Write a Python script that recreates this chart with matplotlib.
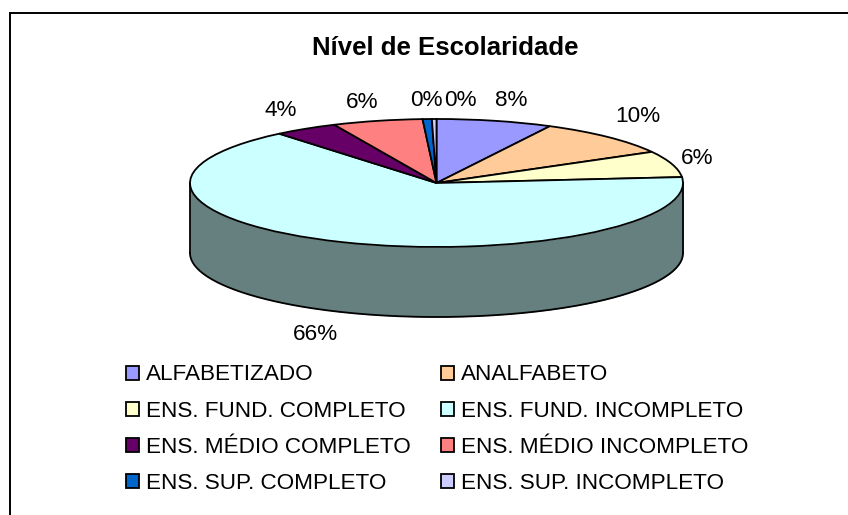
import numpy as np
import matplotlib
matplotlib.use('Agg')
import matplotlib.pyplot as plt
from matplotlib.lines import Line2D
from matplotlib.patches import Patch

categories = ['ALFABETIZADO', 'ANALFABETO', 'ENS. FUND. COMPLETO', 'ENS. FUND. INCOMPLETO',
              'ENS. MÉDIO COMPLETO', 'ENS. MÉDIO INCOMPLETO', 'ENS. SUP. COMPLETO', 'ENS. SUP. INCOMPLETO']
values = [7.6, 9.3, 6.6, 65.4, 4.2, 5.9, 0.6, 0.3]
percent_labels = ['8%', '10%', '6%', '66%', '4%', '6%', '0%', '0%']
colors = ['#9999FF', '#FFCC99', '#FFFFCC', '#CCFFFF', '#660066', '#FF8080', '#0066CC', '#CCCCFF']
side_color = '#668080'

W, H = 848, 515
# pie geometry in pixels
cx, cy, rx, ry, depth = 436.5, 183, 246.5, 64, 70
# where the percent labels sit (pixel centres)
label_x = [511.5, 638, 697, 315, 281, 362.5, 426, 460]
label_y = [101, 117, 159, 334, 111, 102, 100, 100]

plt.rcParams['font.family'] = ['Liberation Sans', 'DejaVu Sans']
fig = plt.figure(figsize=(W / 100, H / 100), dpi=100, facecolor='white')
ax = fig.add_axes([0, 0, 1, 1])

wedges, _ = ax.pie(values, colors=colors, startangle=90, counterclock=False, radius=1,
                   wedgeprops={'edgecolor': 'black', 'linewidth': 1.3, 'zorder': 3}, frame=True)
ax.set_aspect('auto')
ax.set_xlim(-cx / rx, (W - cx) / rx)
ax.set_ylim((cy - H) / ry, cy / ry)
ax.set_axis_off()

# side of the cylinder, only the front half shows
t = np.linspace(np.pi, 2 * np.pi, 200)
d = depth / ry
ax.fill_between(np.cos(t), np.sin(t) - d, np.sin(t), color=side_color, linewidth=0, zorder=1)
ax.plot(np.cos(t), np.sin(t) - d, color='black', lw=1.3, zorder=2)
ax.plot([-1, -1], [0, -d], color='black', lw=1.3, zorder=2)
ax.plot([1, 1], [0, -d], color='black', lw=1.3, zorder=2)

for txt, x, y in zip(percent_labels, label_x, label_y):
    fig.text(x / W, 1 - y / H, txt, ha='center', va='center', fontsize=16.2, color='black')

fig.text(445.5 / W, 1 - 48 / H, 'Nível de Escolaridade', ha='center', va='center',
         fontsize=18.5, fontweight='bold', color='black')

# legend is filled column by column, the order below gives the rows of the original
order = [0, 2, 4, 6, 1, 3, 5, 7]
handles = [Patch(facecolor=colors[i], edgecolor='black', linewidth=1.3) for i in order]
names = [categories[i] for i in order]
fig.legend(handles, names, ncols=2, frameon=False, loc='upper left',
           bbox_to_anchor=(126 / W, 1 - 364.5 / H), bbox_transform=fig.transFigure,
           fontsize=16.2, borderpad=0, borderaxespad=0, handlelength=0.575, handleheight=0.575,
           handletextpad=0.31, labelspacing=0.68, columnspacing=1.37, labelcolor='black')

# chart frame runs off the picture at right and bottom
fig.add_artist(Line2D([9.5 / W, 9.5 / W], [0, 1 - 13 / H], color='black', lw=1.4))
fig.add_artist(Line2D([9.5 / W, 1], [1 - 13 / H, 1 - 13 / H], color='black', lw=1.4))

fig.savefig('out.png', dpi=100)
